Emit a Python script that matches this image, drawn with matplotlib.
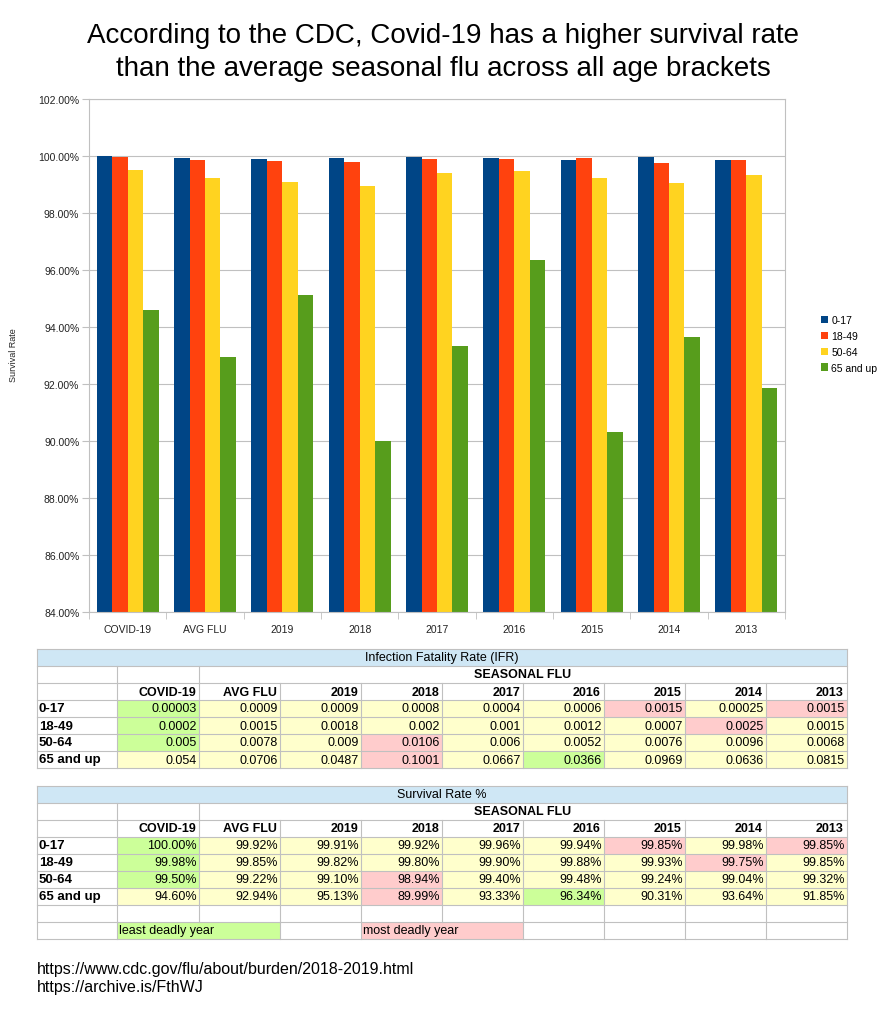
import matplotlib
matplotlib.use('Agg')
import matplotlib.pyplot as plt
import numpy as np
from matplotlib.patches import Rectangle

plt.rcParams['font.family'] = ['Liberation Sans', 'DejaVu Sans']

categories = ['COVID-19', 'AVG FLU', '2019', '2018', '2017', '2016', '2015', '2014', '2013']
age_groups = ['0-17', '18-49', '50-64', '65 and up']

# survival rate % (chart + second table)
surv_0_17 = [100.00, 99.92, 99.91, 99.92, 99.96, 99.94, 99.85, 99.98, 99.85]
surv_18_49 = [99.98, 99.85, 99.82, 99.80, 99.90, 99.88, 99.93, 99.75, 99.85]
surv_50_64 = [99.50, 99.22, 99.10, 98.94, 99.40, 99.48, 99.24, 99.04, 99.32]
surv_65 = [94.60, 92.94, 95.13, 89.99, 93.33, 96.34, 90.31, 93.64, 91.85]

# infection fatality rate (first table)
ifr_0_17 = [0.00003, 0.0009, 0.0009, 0.0008, 0.0004, 0.0006, 0.0015, 0.00025, 0.0015]
ifr_18_49 = [0.0002, 0.0015, 0.0018, 0.002, 0.001, 0.0012, 0.0007, 0.0025, 0.0015]
ifr_50_64 = [0.005, 0.0078, 0.009, 0.0106, 0.006, 0.0052, 0.0076, 0.0096, 0.0068]
ifr_65 = [0.054, 0.0706, 0.0487, 0.1001, 0.0667, 0.0366, 0.0969, 0.0636, 0.0815]

# g = least deadly, r = most deadly, y = normal
hl_0_17 = 'gyyyyyryr'
hl_18_49 = 'gyyyyyyry'
hl_50_64 = 'gyyryyyyy'
hl_65 = 'yyyrygyyy'

bar_colors = ['#004586', '#ff420e', '#ffd320', '#579d1c']
fills = {'g': '#ccff99', 'y': '#ffffcc', 'r': '#ffcccc'}
title_bg = '#cfe7f5'
grid_c = '#c0c0c0'

W, H = 886, 1012
fig = plt.figure(figsize=(W / 100, H / 100), dpi=100)

fig.text(0.5, 1 - 36 / H, 'According to the CDC, Covid-19 has a higher survival rate',
         ha='center', va='center', fontsize=20)
fig.text(0.5, 1 - 69 / H, 'than the average seasonal flu across all age brackets',
         ha='center', va='center', fontsize=20)

# ---- bar chart ----
ax = fig.add_axes([89 / W, 1 - 613 / H, 696 / W, 513 / H])
x = np.arange(len(categories))
bw = 0.2
series = [surv_0_17, surv_18_49, surv_50_64, surv_65]
for i, (s, lab) in enumerate(zip(series, age_groups)):
    ax.bar(x + (i - 1.5) * bw, s, bw, color=bar_colors[i], label=lab, zorder=2)

ax.set_ylim(84, 102)
ax.set_xlim(-0.5, len(categories) - 0.5)
yt = np.arange(84, 103, 2)
ax.set_yticks(yt)
ax.set_yticklabels(['%.2f%%' % v for v in yt], fontsize=7.5, color='#222222')
ax.set_xticks(x)
ax.set_xticklabels(categories, fontsize=7.5, color='#222222')
ax.set_xticks(np.arange(-0.5, len(categories)), minor=True)
ax.tick_params(axis='x', which='major', length=0, pad=9)
ax.tick_params(axis='x', which='minor', length=5, color=grid_c)
ax.tick_params(axis='y', length=5, color=grid_c, pad=2)
ax.grid(axis='y', color=grid_c, lw=0.8, zorder=0)
ax.set_axisbelow(True)
for sp in ax.spines.values():
    sp.set_color(grid_c)
    sp.set_linewidth(0.8)

fig.text(14 / W, 1 - 355 / H, 'Survival Rate', rotation=90, ha='center', va='center',
         fontsize=6.5, color='#222222')
fig.legend(loc='center left', bbox_to_anchor=(821 / W, 1 - 345 / H), frameon=False,
           fontsize=7.5, handlelength=0.7, handleheight=0.7, handletextpad=0.3,
           labelspacing=0.55, borderpad=0, borderaxespad=0)

# ---- tables ----
tab = fig.add_axes([0, 0, 1, 1])
tab.set_xlim(0, W)
tab.set_ylim(H, 0)
tab.axis('off')

cols = [37, 117, 199, 280, 361, 442, 523, 604, 685, 766, 847]
rh = 17


def hline(y):
    tab.plot([cols[0], cols[-1]], [y, y], color=grid_c, lw=0.8)


def vlines(xs, y0, y1):
    for xv in xs:
        tab.plot([xv, xv], [y0, y1], color=grid_c, lw=0.8)


def draw_table(top, title, values, fmt, legend_rows=False):
    n_rows = 7 + (2 if legend_rows else 0)
    bottom = top + n_rows * rh
    tab.add_patch(Rectangle((cols[0], top), cols[-1] - cols[0], rh, fc=title_bg, ec='none'))
    tab.text((cols[0] + cols[-1]) / 2, top + rh / 2, title, ha='center', va='center', fontsize=9)
    tab.text((cols[2] + cols[-1]) / 2, top + 1.5 * rh, 'SEASONAL FLU', ha='center',
             va='center', fontsize=9, fontweight='bold')
    for j, c in enumerate(categories):
        tab.text(cols[j + 2] - 3, top + 2.5 * rh, c, ha='right', va='center',
                 fontsize=9, fontweight='bold')
    hls = [hl_0_17, hl_18_49, hl_50_64, hl_65]
    for r, (lab, vals, hl) in enumerate(zip(age_groups, values, hls)):
        y0 = top + (3 + r) * rh
        tab.text(cols[0] + 2, y0 + rh / 2, lab, ha='left', va='center', fontsize=9.5,
                 fontweight='bold')
        for j, v in enumerate(vals):
            tab.add_patch(Rectangle((cols[j + 1], y0), cols[j + 2] - cols[j + 1], rh,
                                    fc=fills[hl[j]], ec='none'))
            tab.text(cols[j + 2] - 2, y0 + rh / 2, fmt(v), ha='right', va='center', fontsize=9)
    if legend_rows:
        y0 = top + 8 * rh
        tab.add_patch(Rectangle((cols[1], y0), cols[3] - cols[1], rh, fc=fills['g'], ec='none'))
        tab.add_patch(Rectangle((cols[4], y0), cols[6] - cols[4], rh, fc=fills['r'], ec='none'))
        tab.text(cols[1] + 2, y0 + rh / 2, 'least deadly year', ha='left', va='center', fontsize=9)
        tab.text(cols[4] + 2, y0 + rh / 2, 'most deadly year', ha='left', va='center', fontsize=9)
    for k in range(n_rows + 1):
        hline(top + k * rh)
    vlines([cols[0], cols[-1]], top, bottom)
    vlines(cols[1:3], top + rh, top + 2 * rh)
    last = top + (8 if legend_rows else 7) * rh
    vlines(cols[1:-1], top + 2 * rh, last)
    if legend_rows:
        vlines([cols[1], cols[3], cols[4], cols[6], cols[7], cols[8], cols[9]], last, bottom)


draw_table(650, 'Infection Fatality Rate (IFR)', [ifr_0_17, ifr_18_49, ifr_50_64, ifr_65],
           lambda v: np.format_float_positional(v))
draw_table(787, 'Survival Rate %', [surv_0_17, surv_18_49, surv_50_64, surv_65],
           lambda v: '%.2f%%' % v, legend_rows=True)

fig.text(37 / W, 1 - 970 / H, 'https://www.cdc.gov/flu/about/burden/2018-2019.html',
         ha='left', va='center', fontsize=11.5)
fig.text(37 / W, 1 - 988 / H, 'https://archive.is/FthWJ', ha='left', va='center', fontsize=11.5)

fig.savefig('out.png', dpi=100)
